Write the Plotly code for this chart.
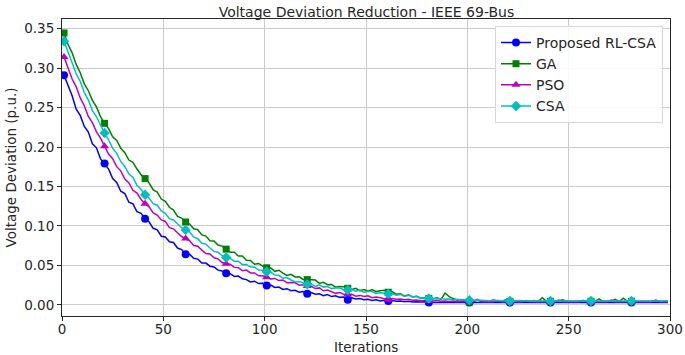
import plotly.graph_objects as go

# Iterations (odd steps 1..299)
iterations = list(range(1, 300, 2))

rl_csa = [
    0.2910, 0.2790, 0.2650, 0.2480, 0.2400, 0.2260, 0.2190, 0.2040, 0.1990, 0.1850,
    0.1790, 0.1720, 0.1600, 0.1550, 0.1440, 0.1410, 0.1300, 0.1280, 0.1180, 0.1160,
    0.1090, 0.1050, 0.0970, 0.0950, 0.0870, 0.0860, 0.0800, 0.0790, 0.0720, 0.0700,
    0.0640, 0.0640, 0.0590, 0.0580, 0.0530, 0.0530, 0.0490, 0.0480, 0.0440, 0.0430,
    0.0400, 0.0395, 0.0360, 0.0365, 0.0330, 0.0320, 0.0290, 0.0300, 0.0270, 0.0275,
    0.0245, 0.0250, 0.0220, 0.0225, 0.0195, 0.0205, 0.0180, 0.0185, 0.0160, 0.0170,
    0.0140, 0.0155, 0.0135, 0.0140, 0.0115, 0.0130, 0.0105, 0.0115, 0.0095, 0.0100,
    0.0065, 0.0090, 0.0075, 0.0080, 0.0065, 0.0070, 0.0055, 0.0065, 0.0050, 0.0060,
    0.0050, 0.0055, 0.0045, 0.0050, 0.0040, 0.0045, 0.0035, 0.0040, 0.0035, 0.0038,
    0.0030, 0.0030, 0.0033, 0.0030, 0.0030, 0.0032, 0.0030, 0.0030, 0.0030, 0.0033,
    0.0030, 0.0030, 0.0030, 0.0032, 0.0030, 0.0030, 0.0030, 0.0030, 0.0033, 0.0030,
    0.0030, 0.0030, 0.0030, 0.0030, 0.0032, 0.0030, 0.0030, 0.0030, 0.0030, 0.0030,
    0.0030, 0.0033, 0.0030, 0.0030, 0.0030, 0.0030, 0.0030, 0.0032, 0.0030, 0.0030,
    0.0030, 0.0030, 0.0030, 0.0030, 0.0030, 0.0030, 0.0030, 0.0030, 0.0030, 0.0030,
    0.0030, 0.0030, 0.0030, 0.0030, 0.0030, 0.0030, 0.0030, 0.0030, 0.0030, 0.0030,
]

ga = [
    0.3445, 0.3299, 0.3193, 0.3047, 0.2941, 0.2800, 0.2713, 0.2591, 0.2509, 0.2385,
    0.2300, 0.2233, 0.2129, 0.2083, 0.1985, 0.1929, 0.1835, 0.1805, 0.1721, 0.1650,
    0.1600, 0.1544, 0.1456, 0.1430, 0.1341, 0.1311, 0.1237, 0.1201, 0.1122, 0.1100,
    0.1050, 0.1024, 0.0965, 0.0952, 0.0886, 0.0871, 0.0812, 0.0810, 0.0759, 0.0745,
    0.0706, 0.0668, 0.0666, 0.0620, 0.0620, 0.0566, 0.0563, 0.0516, 0.0525, 0.0490,
    0.0470, 0.0467, 0.0425, 0.0439, 0.0403, 0.0373, 0.0388, 0.0354, 0.0355, 0.0322,
    0.0320, 0.0317, 0.0314, 0.0272, 0.0286, 0.0255, 0.0259, 0.0224, 0.0234, 0.0229,
    0.0210, 0.0194, 0.0209, 0.0178, 0.0193, 0.0173, 0.0193, 0.0168, 0.0178, 0.0184,
    0.0160, 0.0165, 0.0135, 0.0141, 0.0112, 0.0129, 0.0101, 0.0109, 0.0082, 0.0091,
    0.0080, 0.0075, 0.0090, 0.0070, 0.0150, 0.0105, 0.0080, 0.0060, 0.0068, 0.0050,
    0.0035, 0.0045, 0.0070, 0.0045, 0.0050, 0.0045, 0.0060, 0.0045, 0.0045, 0.0065,
    0.0045, 0.0045, 0.0050, 0.0045, 0.0045, 0.0045, 0.0055, 0.0045, 0.0090, 0.0045,
    0.0045, 0.0045, 0.0050, 0.0065, 0.0045, 0.0045, 0.0045, 0.0045, 0.0055, 0.0045,
    0.0045, 0.0045, 0.0075, 0.0045, 0.0045, 0.0050, 0.0070, 0.0045, 0.0085, 0.0045,
    0.0045, 0.0045, 0.0045, 0.0045, 0.0045, 0.0045, 0.0045, 0.0045, 0.0045, 0.0045,
]

pso = [
    0.3140, 0.3013, 0.2862, 0.2762, 0.2622, 0.2523, 0.2388, 0.2308, 0.2193, 0.2112,
    0.2010, 0.1911, 0.1852, 0.1751, 0.1698, 0.1594, 0.1544, 0.1451, 0.1416, 0.1335,
    0.1280, 0.1242, 0.1166, 0.1138, 0.1076, 0.1057, 0.0979, 0.0963, 0.0913, 0.0866,
    0.0840, 0.0811, 0.0753, 0.0743, 0.0694, 0.0651, 0.0645, 0.0596, 0.0583, 0.0536,
    0.0520, 0.0515, 0.0475, 0.0472, 0.0434, 0.0441, 0.0405, 0.0404, 0.0369, 0.0369,
    0.0350, 0.0327, 0.0335, 0.0308, 0.0316, 0.0280, 0.0284, 0.0279, 0.0249, 0.0254,
    0.0240, 0.0236, 0.0207, 0.0215, 0.0178, 0.0187, 0.0166, 0.0146, 0.0157, 0.0133,
    0.0130, 0.0135, 0.0110, 0.0120, 0.0105, 0.0115, 0.0090, 0.0100, 0.0090, 0.0080,
    0.0065, 0.0080, 0.0070, 0.0075, 0.0065, 0.0070, 0.0058, 0.0062, 0.0052, 0.0055,
    0.0050, 0.0048, 0.0055, 0.0045, 0.0050, 0.0042, 0.0048, 0.0040, 0.0045, 0.0040,
    0.0040, 0.0040, 0.0060, 0.0040, 0.0040, 0.0040, 0.0040, 0.0055, 0.0040, 0.0040,
    0.0040, 0.0040, 0.0040, 0.0040, 0.0055, 0.0040, 0.0040, 0.0040, 0.0040, 0.0040,
    0.0040, 0.0040, 0.0060, 0.0040, 0.0040, 0.0040, 0.0040, 0.0040, 0.0055, 0.0040,
    0.0040, 0.0040, 0.0040, 0.0040, 0.0040, 0.0060, 0.0040, 0.0040, 0.0040, 0.0040,
    0.0040, 0.0040, 0.0040, 0.0040, 0.0040, 0.0040, 0.0060, 0.0040, 0.0040, 0.0040,
]

csa = [
    0.3340, 0.3195, 0.3077, 0.2928, 0.2830, 0.2693, 0.2595, 0.2462, 0.2383, 0.2274,
    0.2177, 0.2092, 0.1982, 0.1920, 0.1817, 0.1753, 0.1657, 0.1615, 0.1515, 0.1464,
    0.1395, 0.1352, 0.1282, 0.1263, 0.1191, 0.1161, 0.1093, 0.1076, 0.1026, 0.0977,
    0.0950, 0.0922, 0.0861, 0.0838, 0.0780, 0.0770, 0.0721, 0.0678, 0.0667, 0.0623,
    0.0600, 0.0589, 0.0554, 0.0554, 0.0510, 0.0512, 0.0479, 0.0477, 0.0441, 0.0440,
    0.0420, 0.0415, 0.0377, 0.0374, 0.0337, 0.0346, 0.0315, 0.0290, 0.0296, 0.0278,
    0.0260, 0.0262, 0.0235, 0.0252, 0.0225, 0.0233, 0.0206, 0.0214, 0.0213, 0.0191,
    0.0190, 0.0195, 0.0174, 0.0189, 0.0159, 0.0169, 0.0169, 0.0144, 0.0154, 0.0145,
    0.0140, 0.0144, 0.0123, 0.0132, 0.0106, 0.0120, 0.0099, 0.0108, 0.0087, 0.0091,
    0.0080, 0.0085, 0.0076, 0.0082, 0.0070, 0.0075, 0.0066, 0.0072, 0.0062, 0.0068,
    0.0060, 0.0058, 0.0062, 0.0056, 0.0058, 0.0052, 0.0058, 0.0052, 0.0052, 0.0056,
    0.0050, 0.0050, 0.0054, 0.0050, 0.0050, 0.0050, 0.0053, 0.0050, 0.0050, 0.0050,
    0.0050, 0.0050, 0.0050, 0.0053, 0.0050, 0.0050, 0.0050, 0.0050, 0.0050, 0.0050,
    0.0050, 0.0050, 0.0050, 0.0050, 0.0050, 0.0050, 0.0050, 0.0050, 0.0050, 0.0050,
    0.0050, 0.0050, 0.0050, 0.0050, 0.0050, 0.0050, 0.0050, 0.0050, 0.0050, 0.0050,
]

series_names = ["Proposed RL-CSA", "GA", "PSO", "CSA"]
series_values = [rl_csa, ga, pso, csa]
colors = ["#0000ff", "#008000", "#bf00bf", "#00bfbf"]
symbols = ["circle", "square", "triangle-up", "diamond"]
msizes = [8, 7, 8, 8]
mark_every = 10  # every 20 iterations

fig = go.Figure()
for name, vals, col, sym, ms in zip(series_names, series_values, colors, symbols, msizes):
    fig.add_trace(go.Scatter(x=iterations, y=vals, mode="lines",
                             line=dict(color=col, width=1.5), showlegend=False,
                             hoverinfo="skip"))
    fig.add_trace(go.Scatter(x=iterations[::mark_every], y=vals[::mark_every], mode="markers",
                             marker=dict(color=col, symbol=sym, size=ms), showlegend=False))
    fig.add_trace(go.Scatter(x=[None], y=[None], mode="lines+markers", name=name,
                             line=dict(color=col, width=1.5),
                             marker=dict(color=col, symbol=sym, size=ms)))

TXT = "#262626"
fig.update_layout(
    width=685, height=355,
    margin=dict(l=62, r=15, t=19, b=39, autoexpand=False),
    paper_bgcolor="white", plot_bgcolor="white",
    font=dict(family="DejaVu Sans", size=13.5, color=TXT),
    title=dict(text="Voltage Deviation Reduction - IEEE 69-Bus", x=0.535, xanchor="center",
               yref="container", y=0.98, yanchor="top", pad=dict(t=0, b=0),
               font=dict(size=14, color=TXT)),
    legend=dict(x=0.9885, xanchor="right", y=0.977, yanchor="top",
                bgcolor="rgba(255,255,255,0.85)", bordercolor="#d6d6d6", borderwidth=1,
                font=dict(size=14), tracegroupgap=0, itemwidth=30),
    showlegend=True,
    annotations=[
        dict(text="Iterations", xref="paper", yref="paper", x=0.5, y=-0.1044,
             xanchor="center", yanchor="middle", showarrow=False,
             font=dict(size=13.5, color=TXT)),
        dict(text="Voltage Deviation (p.u.)", xref="paper", yref="paper", x=-0.0855, y=0.5,
             xanchor="center", yanchor="middle", textangle=-90, showarrow=False,
             font=dict(size=13.5, color=TXT)),
    ],
)
fig.update_xaxes(range=[0, 300], tickvals=[0, 50, 100, 150, 200, 250, 300],
                 showgrid=True, gridcolor="#cccccc", gridwidth=1,
                 showline=True, linecolor=TXT, linewidth=1, mirror=True,
                 ticks="outside", ticklen=4, tickcolor=TXT, zeroline=False,
                 automargin=False, tickfont=dict(size=13.5), ticklabelstandoff=-3)
fig.update_yaxes(range=[-0.0141, 0.3622],
                 tickvals=[0.0, 0.05, 0.10, 0.15, 0.20, 0.25, 0.30, 0.35], tickformat=".2f",
                 showgrid=True, gridcolor="#cccccc", gridwidth=1,
                 showline=True, linecolor=TXT, linewidth=1, mirror=True,
                 ticks="outside", ticklen=4, tickcolor=TXT, zeroline=False,
                 automargin=False, tickfont=dict(size=13.5))

fig.write_html("out.html", config={"displayModeBar": False},
               post_script="document.body.style.margin='0';")
